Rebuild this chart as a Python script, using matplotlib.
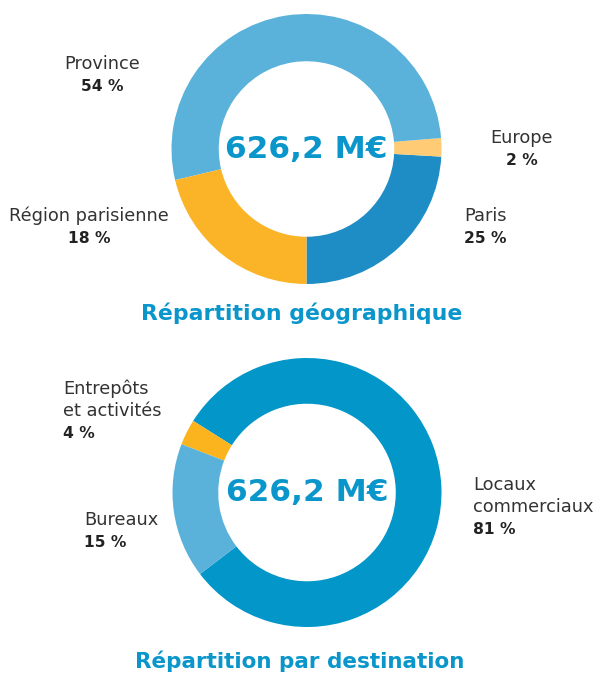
import matplotlib.pyplot as plt

W, H = 601, 675

# top donut: geographic split (slice shares measured from the arcs, labels as printed)
geo_names = ["Paris", "Europe", "Province", "Région parisienne"]
geo_shares = [24.1, 2.2, 52.4, 21.3]
geo_labels = ["25 %", "2 %", "54 %", "18 %"]
geo_colors = ["#1e8dc6", "#ffcb75", "#5ab2db", "#fbb427"]

# bottom donut: split by use
dest_names = ["Locaux\ncommerciaux", "Entrepôts\net activités", "Bureaux"]
dest_shares = [80.7, 3.1, 16.2]
dest_labels = ["81 %", "4 %", "15 %"]
dest_colors = ["#0396c9", "#fbb41e", "#5ab2db"]

total_label = "626,2 M€"
titles = ["Répartition géographique", "Répartition par destination"]

BLUE = "#0a96cb"
GREY = "#333333"
DARK = "#222222"

fig = plt.figure(figsize=(W / 100, H / 100), dpi=100)


def px(x, y):
    return x / W, 1 - y / H


def donut(cx, cy, r, shares, colors, start, width):
    ax = fig.add_axes([(cx - r) / W, 1 - (cy + r) / H, 2 * r / W, 2 * r / H])
    ax.pie(shares, colors=colors, startangle=start, counterclock=True,
           wedgeprops=dict(width=width, linewidth=0))
    ax.set_xlim(-1, 1)
    ax.set_ylim(-1, 1)
    ax.set_aspect("auto")
    ax.axis("off")
    ax.text(0, 0, total_label, ha="center", va="center", color=BLUE,
            fontsize=22.5, fontweight="bold")
    return ax


donut(306.5, 149, 135, geo_shares, geo_colors, 270, 0.35)
donut(307, 492.5, 134.5, dest_shares, dest_colors, 217.3, 0.34)


def label(x, y, name, pct, ha):
    lines = name.split("\n")
    for i, ln in enumerate(lines):
        fig.text(*px(x, y + i * 22.5), ln, ha=ha, va="center",
                 fontsize=12.8, color=GREY)
    fig.text(*px(x, y + len(lines) * 22.5), pct, ha=ha, va="center",
             fontsize=11.2, fontweight="bold", color=DARK)


# geo labels
label(102, 64, geo_names[2], geo_labels[2], "center")
label(89, 216, geo_names[3], geo_labels[3], "center")
label(522, 138, geo_names[1], geo_labels[1], "center")
label(464, 216, geo_names[0], geo_labels[0], "left")

# destination labels
label(63, 389, dest_names[1], dest_labels[1], "left")
label(84, 520, dest_names[2], dest_labels[2], "left")
label(473, 485, dest_names[0], dest_labels[0], "left")

fig.text(*px(302, 313), titles[0], ha="center", va="center", color=BLUE,
         fontsize=15.8, fontweight="bold")
fig.text(*px(300, 661), titles[1], ha="center", va="center", color=BLUE,
         fontsize=15.5, fontweight="bold")

fig.savefig("out.png", dpi=100)
